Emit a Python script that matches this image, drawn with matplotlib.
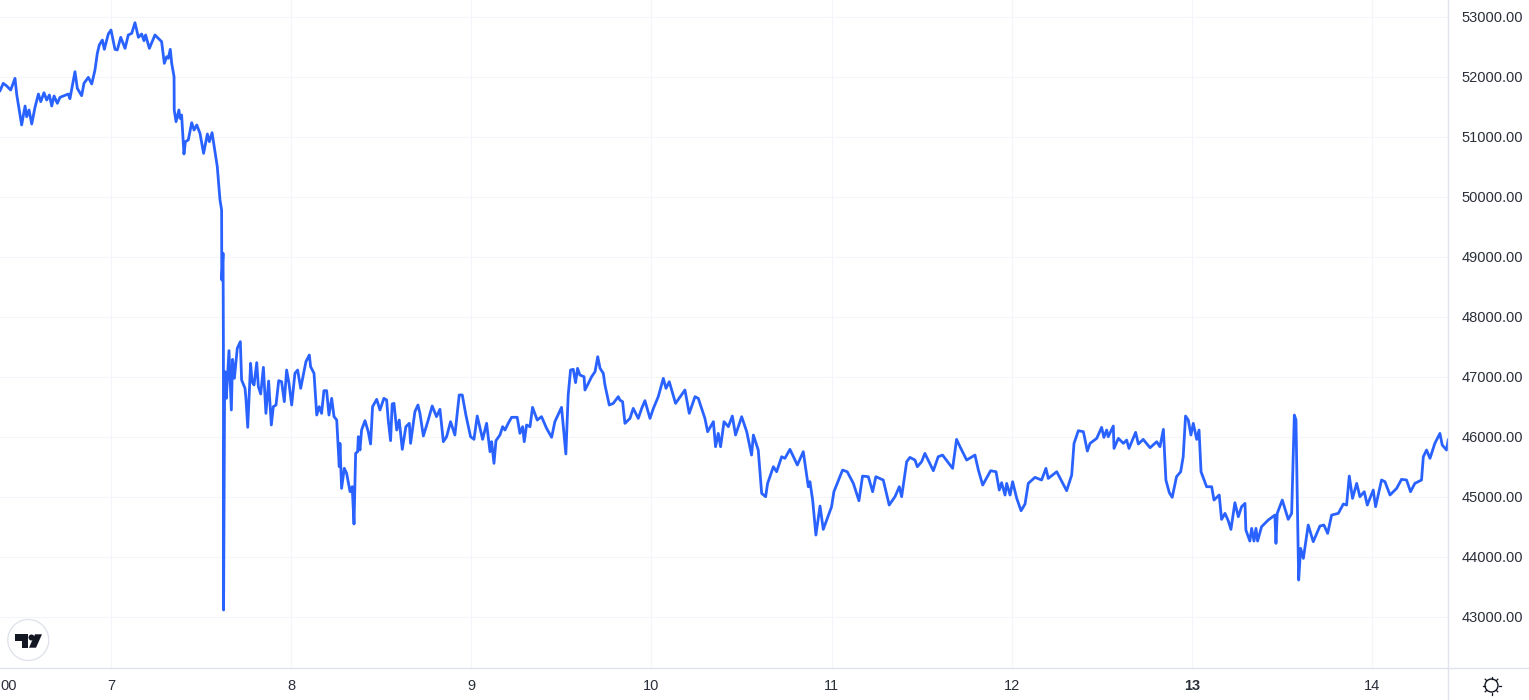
import matplotlib
matplotlib.use("Agg")
import matplotlib.pyplot as plt
from matplotlib.lines import Line2D
from matplotlib.patches import Circle, Polygon

plt.rcParams["font.family"] = ["Liberation Sans", "DejaVu Sans"]

W, H = 1529, 700
PANE_W, PANE_H = 1448, 668

LINE_COLOR = "#2962ff"
GRID_COLOR = "#f3f5fa"
BORDER_COLOR = "#e0e3eb"
TEXT_COLOR = "#2a2e39"

X_TICKS = [7, 8, 9, 10, 11, 12, 13, 14]
X_LABELS = ["7", "8", "9", "10", "11", "12", "13", "14"]
Y_TICKS = [43000, 44000, 45000, 46000, 47000, 48000, 49000, 50000, 51000, 52000, 53000]

# split up by stretch of the chart
rise_days = [6.384, 6.402, 6.421, 6.443, 6.467, 6.477, 6.486, 6.504, 6.523, 6.532, 6.545, 6.560, 6.578, 6.597, 6.610,
             6.628, 6.643, 6.658, 6.671, 6.684, 6.702, 6.717, 6.763, 6.772, 6.800, 6.813, 6.837, 6.850, 6.874, 6.893,
             6.911, 6.924, 6.935, 6.952, 6.963, 6.985, 7.000, 7.022, 7.035, 7.054, 7.078, 7.096, 7.115, 7.133, 7.152,
             7.170, 7.183, 7.192, 7.213, 7.244, 7.281, 7.296, 7.309, 7.318, 7.329, 7.337, 7.350, 7.351, 7.361, 7.377,
             7.383, 7.392, 7.405, 7.413, 7.429, 7.448, 7.461, 7.476, 7.494, 7.514, 7.535, 7.546, 7.561, 7.583, 7.590,
             7.605, 7.614, 7.615, 7.622, 7.623]
rise_prices = [51772, 51894, 51850, 51783, 51977, 51700, 51533, 51200, 51516, 51338, 51450, 51216, 51494, 51716, 51589,
               51738, 51616, 51700, 51516, 51683, 51561, 51661, 51716, 51638, 52088, 51811, 51688, 51894, 51994, 51883,
               52116, 52394, 52533, 52616, 52461, 52716, 52783, 52461, 52450, 52661, 52477, 52700, 52727, 52905, 52661,
               52716, 52605, 52700, 52477, 52700, 52589, 52227, 52338, 52311, 52461, 52227, 52005, 51450, 51255, 51450,
               51311, 51366, 50716, 50922, 50950, 51238, 51116, 51200, 51061, 50727, 51050, 50922, 51072, 50644, 50505,
               49950, 49783, 48616, 49061, 47950]

crash_days = [7.624, 7.625, 7.630, 7.633, 7.640, 7.655, 7.668, 7.675, 7.685, 7.701, 7.718, 7.725, 7.744, 7.749, 7.759,
              7.775, 7.783, 7.794, 7.809, 7.818, 7.831, 7.846, 7.860, 7.875, 7.890, 7.901, 7.916, 7.931, 7.947, 7.962,
              7.975, 7.988, 8.003, 8.021, 8.036, 8.053, 8.082, 8.101, 8.108, 8.127, 8.142, 8.156, 8.169, 8.182, 8.197,
              8.210, 8.225, 8.238, 8.253, 8.267, 8.271, 8.280, 8.295, 8.308, 8.327, 8.339, 8.349, 8.358, 8.369, 8.373,
              8.382, 8.391, 8.410, 8.428, 8.441, 8.452, 8.475, 8.493, 8.515, 8.530, 8.539, 8.552, 8.561, 8.571, 8.586,
              8.600, 8.617, 8.637, 8.656, 8.663, 8.687, 8.704, 8.715, 8.734, 8.761, 8.783, 8.807, 8.826, 8.845, 8.863,
              8.885, 8.909, 8.933, 8.950, 8.970, 8.996, 9.015, 9.033, 9.063, 9.085, 9.104, 9.113, 9.126, 9.137, 9.159,
              9.174, 9.187, 9.205, 9.224, 9.255, 9.270, 9.285, 9.294, 9.307, 9.326, 9.340, 9.366, 9.390, 9.418, 9.446,
              9.464, 9.501, 9.525, 9.538, 9.551, 9.566, 9.579, 9.590, 9.603]
crash_prices = [47505, 43116, 46500, 47089, 46644, 47439, 46450, 47294, 46978, 47478, 47589, 46950, 46811, 46644, 46161,
                47228, 46922, 46867, 47239, 46839, 46717, 47161, 46394, 46933, 46200, 46505, 46533, 46939, 46922, 46589,
                47116, 46894, 46533, 47061, 47116, 46811, 47255, 47366, 47172, 47061, 46366, 46505, 46394, 46772, 46772,
                46366, 46644, 46339, 46283, 45505, 45894, 45144, 45478, 45394, 45089, 45172, 44550, 45728, 45755, 46005,
                45783, 46116, 46272, 46089, 45883, 46505, 46628, 46450, 46644, 46617, 46283, 45939, 46550, 46561, 46116,
                46283, 45794, 46172, 46228, 45894, 46422, 46533, 46394, 46017, 46283, 46517, 46339, 46461, 45922, 46005,
                46255, 46033, 46700, 46700, 46366, 46005, 45961, 46350, 45961, 46228, 45755, 45922, 45561, 45939, 46033,
                46172, 46116, 46228, 46328, 46328, 46061, 46172, 45922, 46200, 46172, 46494, 46283, 46339, 46144, 45994,
                46255, 46494, 45717, 46700, 47116, 47128, 46906, 47144, 47033]

slide_days = [9.626, 9.631, 9.650, 9.668, 9.687, 9.702, 9.715, 9.733, 9.742, 9.766, 9.788, 9.816, 9.825, 9.840, 9.853,
              9.881, 9.899, 9.927, 9.946, 9.964, 9.992, 10.011, 10.038, 10.066, 10.081, 10.099, 10.134, 10.186, 10.210,
              10.242, 10.260, 10.297, 10.312, 10.344, 10.356, 10.371, 10.384, 10.403, 10.427, 10.449, 10.467, 10.501,
              10.529, 10.556, 10.566, 10.593, 10.612, 10.634, 10.645, 10.677, 10.695, 10.723, 10.741, 10.769, 10.810,
              10.843, 10.871, 10.880, 10.895, 10.913, 10.936, 10.954, 11.000, 11.013, 11.061, 11.087, 11.121, 11.152,
              11.172, 11.204, 11.228, 11.246, 11.287, 11.320, 11.352, 11.376, 11.389, 11.417, 11.435, 11.463, 11.476,
              11.500, 11.518, 11.565, 11.592, 11.616, 11.672, 11.694, 11.713]
slide_prices = [47005, 46783, 46894, 47005, 47088, 47338, 47144, 47060, 46866, 46533, 46560, 46672, 46616, 46588, 46227,
                46310, 46477, 46310, 46477, 46605, 46310, 46477, 46672, 46977, 46810, 46922, 46560, 46783, 46394,
                46672, 46644, 46310, 46088, 46255, 45838, 46060, 45838, 46255, 46172, 46349, 46033, 46338,
                46088, 45699, 46033, 45782, 45060, 45005, 45227, 45505, 45421, 45671, 45644, 45794, 45533,
                45755, 45171, 45255, 44949, 44366, 44849, 44460, 44838, 45088, 45449, 45421, 45227, 44938,
                45349, 45338, 45088, 45338, 45283, 44866, 45005, 45171, 45005, 45588, 45660, 45616, 45505,
                45588, 45727, 45438, 45671, 45699, 45477, 45960, 45838]

tail_days = [11.750, 11.796, 11.815, 11.839, 11.883, 11.913, 11.931, 11.944, 11.963, 11.972, 11.991, 12.005, 12.028,
             12.052, 12.074, 12.092, 12.129, 12.166, 12.190, 12.203, 12.250, 12.305, 12.333, 12.346, 12.370, 12.398,
             12.420, 12.435, 12.472, 12.499, 12.512, 12.527, 12.536, 12.564, 12.568, 12.592, 12.620, 12.638, 12.651,
             12.688, 12.703, 12.730, 12.768, 12.805, 12.823, 12.842, 12.856, 12.875, 12.891, 12.915, 12.938, 12.952,
             12.965, 12.980, 12.995, 13.008, 13.027, 13.040, 13.051, 13.082, 13.110, 13.123, 13.152, 13.165, 13.184,
             13.202, 13.217, 13.239, 13.258, 13.276, 13.295, 13.300, 13.322, 13.332, 13.345, 13.356, 13.365, 13.387,
             13.424, 13.461, 13.467, 13.474, 13.502, 13.535, 13.554, 13.569, 13.578, 13.593, 13.604, 13.619, 13.646,
             13.674, 13.711, 13.733, 13.754, 13.776, 13.813, 13.841, 13.859, 13.874, 13.892, 13.915, 13.933, 13.957,
             13.974, 14.007, 14.020, 14.053, 14.072, 14.100, 14.137, 14.164, 14.192, 14.214, 14.238, 14.275, 14.285,
             14.303, 14.322, 14.349, 14.377, 14.390, 14.414, 14.423]
tail_prices = [45616, 45699, 45449, 45199, 45438, 45421, 45116, 45238, 45033, 45227, 45033, 45255, 44977,
               44771, 44883, 45227, 45327, 45283, 45477, 45310, 45421, 45105, 45366, 45894, 46105, 46088,
               45766, 45894, 45977, 46160, 45994, 46116, 46005, 46183, 45810, 45977, 45894, 45949, 45810,
               46077, 45883, 45960, 45821, 45921, 45838, 46127, 45283, 45071, 44994, 45338, 45421, 45671,
               46349, 46283, 46033, 46227, 45960, 46116, 45421, 45171, 45171, 44949, 45033, 44627, 44727,
               44605, 44460, 44905, 44671, 44838, 44894, 44449, 44266, 44477, 44266, 44477, 44266, 44505,
               44616, 44699, 44227, 44727, 44949, 44627, 44727, 46366, 46283, 43616, 44144, 43977, 44533,
               44255, 44516, 44533, 44394, 44699, 44727, 44883, 44866, 45349, 44977, 45227, 45005, 45088,
               44866, 45116, 44838, 45283, 45255, 45033, 45144, 45294, 45283, 45088, 45227, 45283, 45671,
               45783, 45644, 45894, 46060, 45866, 45783, 45949]

days = rise_days + crash_days + slide_days + tail_days
prices = rise_prices + crash_prices + slide_prices + tail_prices

fig = plt.figure(figsize=(W / 100, H / 100), dpi=100)
ax = fig.add_axes([0, 1 - PANE_H / H, PANE_W / W, PANE_H / H])
ax.plot(days, prices, color=LINE_COLOR, linewidth=2.0, solid_joinstyle="round", zorder=3)

ax.set_xlim(6.3838, 14.422)
ax.set_ylim(42150, 53283)
ax.set_xticks(X_TICKS, X_LABELS)
ax.set_yticks(Y_TICKS, [f"{v:.2f}" for v in Y_TICKS])
ax.yaxis.tick_right()
ax.grid(True, color=GRID_COLOR, linewidth=0.8)
ax.set_axisbelow(True)
ax.tick_params(axis="both", length=0, labelsize=10.5, labelcolor=TEXT_COLOR)
ax.tick_params(axis="x", pad=8)
ax.tick_params(axis="y", pad=10)
for side in ("top", "left", "right", "bottom"):
    ax.spines[side].set_visible(False)
ax.get_xticklabels()[X_TICKS.index(13)].set_fontweight("bold")

# chrome on top of the pane, in pixels
over = fig.add_axes([0, 0, 1, 1], facecolor="none")
over.set_xlim(0, W)
over.set_ylim(H, 0)
over.axis("off")
over.add_line(Line2D([0, W], [PANE_H - 0.5, PANE_H - 0.5], color=BORDER_COLOR, linewidth=1))
over.add_line(Line2D([PANE_W - 0.5, PANE_W - 0.5], [0, H], color=BORDER_COLOR, linewidth=1))
over.text(9, 685.5, "00", fontsize=10.5, color=TEXT_COLOR, ha="center", va="center")

# logo
over.add_patch(Circle((28.3, 640), 20.5, facecolor="white", edgecolor=BORDER_COLOR, linewidth=1))
over.add_patch(Polygon([(15, 634.3), (28, 634.3), (28, 647.7), (21.7, 647.7), (21.7, 641), (15, 641)], color="#131722", lw=0))
over.add_patch(Circle((31.5, 637.5), 3, color="#131722", lw=0))
over.add_patch(Polygon([(35, 634.3), (42, 634.3), (36, 647.7), (29, 647.7)], color="#131722", lw=0))

# sun icon
over.add_patch(Circle((1491.5, 685.5), 6.5, facecolor="white", edgecolor="#131722", linewidth=1))
for dx, dy in [(0, -1), (0, 1), (-1, 0), (1, 0), (-0.7, -0.7), (0.7, -0.7), (-0.7, 0.7), (0.7, 0.7)]:
    over.add_line(Line2D([1491.5 + dx * 7, 1491.5 + dx * 9], [685.5 + dy * 7, 685.5 + dy * 9], color="#131722", linewidth=0.9))

fig.savefig("out.png", dpi=100)
